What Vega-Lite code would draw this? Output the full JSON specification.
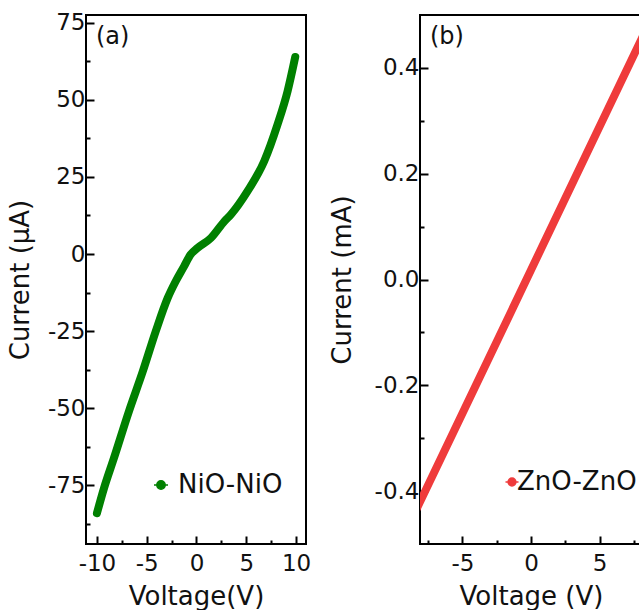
{
  "$schema": "https://vega.github.io/schema/vega-lite/v6.json",
  "padding": {"left": 6, "top": 10, "right": 0, "bottom": 0},
  "background": "white",
  "spacing": 16,
  "config": {
    "view": {"stroke": "black", "strokeWidth": 2},
    "axis": {"domain": false, "grid": false, "tickColor": "black", "tickWidth": 2, "labelOverlap": false,
      "labelFont": "DejaVu Sans", "labelFontSize": 23, "labelColor": "#111",
      "titleFont": "DejaVu Sans", "titleFontSize": 26, "titleFontWeight": "normal", "titleColor": "#111"},
    "legend": {"labelFont": "DejaVu Sans", "labelFontSize": 26, "labelColor": "#111", "padding": 0}
  },
  "resolve": {"scale": {"color": "independent", "x": "independent", "y": "independent"}, "legend": {"color": "independent"}},
  "hconcat": [
    {
      "width": 220, "height": 529,
      "layer": [
        {
          "data": {"values": [
            {"V": -10.0, "I": -84.0, "sample": "NiO-NiO"},
            {"V": -9.3, "I": -76.0, "sample": "NiO-NiO"},
            {"V": -8.3, "I": -66.2, "sample": "NiO-NiO"},
            {"V": -6.8, "I": -51.1, "sample": "NiO-NiO"},
            {"V": -5.4, "I": -38.1, "sample": "NiO-NiO"},
            {"V": -4.1, "I": -25.1, "sample": "NiO-NiO"},
            {"V": -2.9, "I": -14.3, "sample": "NiO-NiO"},
            {"V": -2.1, "I": -8.9, "sample": "NiO-NiO"},
            {"V": -1.25, "I": -4.0, "sample": "NiO-NiO"},
            {"V": -0.6, "I": -0.2, "sample": "NiO-NiO"},
            {"V": 0.1, "I": 1.95, "sample": "NiO-NiO"},
            {"V": 1.45, "I": 5.2, "sample": "NiO-NiO"},
            {"V": 2.8, "I": 10.6, "sample": "NiO-NiO"},
            {"V": 3.45, "I": 12.8, "sample": "NiO-NiO"},
            {"V": 5.13, "I": 20.4, "sample": "NiO-NiO"},
            {"V": 6.8, "I": 30.1, "sample": "NiO-NiO"},
            {"V": 8.14, "I": 42.0, "sample": "NiO-NiO"},
            {"V": 9.15, "I": 52.8, "sample": "NiO-NiO"},
            {"V": 9.92, "I": 63.9, "sample": "NiO-NiO"}
          ]},
          "mark": {"type": "line", "strokeWidth": 8, "strokeCap": "round", "strokeJoin": "round", "interpolate": "monotone", "clip": true},
          "encoding": {
            "x": {"field": "V", "type": "quantitative",
              "scale": {"domain": [-11.1, 11], "nice": false, "zero": false},
              "axis": {"title": "Voltage(V)", "values": [-10, -7.5, -5, -2.5, 0, 2.5, 5, 7.5, 10], "tickCount": 50, "labelOverlap": false,
                "labelExpr": "datum.value % 5 === 0 ? (datum.value < 0 ? '-' + abs(datum.value) : '' + datum.value) : ''",
                "tickSize": {"condition": {"test": "datum.value % 5 === 0", "value": -8}, "value": -4},
                "labelPadding": 16, "titlePadding": 4}},
            "y": {"field": "I", "type": "quantitative",
              "scale": {"domain": [-94, 77.5], "nice": false, "zero": false},
              "axis": {"title": "Current (μA)", "values": [-87.5, -75, -62.5, -50, -37.5, -25, -12.5, 0, 12.5, 25, 37.5, 50, 62.5, 75], "tickCount": 50, "labelOverlap": false,
                "labelExpr": "datum.value % 25 === 0 ? (datum.value < 0 ? '-' + abs(datum.value) : '' + datum.value) : ''",
                "tickSize": {"condition": {"test": "datum.value % 25 === 0", "value": -8}, "value": -4},
                "labelPadding": 9, "titlePadding": 14}},
            "color": {"field": "sample", "type": "nominal",
              "scale": {"domain": ["NiO-NiO"], "range": ["#008000"]},
              "legend": {"title": null, "orient": "none", "legendX": 62, "legendY": 457,
                "symbolType": "M-1,0L1,0M-0.6,0A0.6,0.6,0,1,0,0.6,0A0.6,0.6,0,1,0,-0.6,0Z",
                "symbolSize": 196, "symbolStrokeWidth": 1.5, "labelOffset": 4,
                "encode": {"symbols": {"update": {"fill": {"value": "#008000"}, "stroke": {"value": "#008000"}}}}}}
          }
        },
        {
          "data": {"values": [{}]},
          "mark": {"type": "text", "align": "left", "baseline": "middle", "fontSize": 24, "font": "DejaVu Sans", "color": "#111"},
          "encoding": {"x": {"datum": -10.1}, "y": {"datum": 70.5}, "text": {"value": "(a)"}}
        }
      ]
    },
    {
      "width": 222, "height": 529,
      "layer": [
        {
          "data": {"values": [
            {"V": -10.0, "I": -0.523, "sample": "ZnO-ZnO"},
            {"V": -7.74, "I": -0.401, "sample": "ZnO-ZnO"},
            {"V": -5.0, "I": -0.253, "sample": "ZnO-ZnO"},
            {"V": 0.0, "I": 0.018, "sample": "ZnO-ZnO"},
            {"V": 4.43, "I": 0.258, "sample": "ZnO-ZnO"},
            {"V": 7.83, "I": 0.442, "sample": "ZnO-ZnO"},
            {"V": 10.0, "I": 0.559, "sample": "ZnO-ZnO"}
          ]},
          "mark": {"type": "line", "strokeWidth": 8, "strokeCap": "round", "strokeJoin": "round", "clip": true},
          "encoding": {
            "x": {"field": "V", "type": "quantitative",
              "scale": {"domain": [-8.1, 8.1], "nice": false, "zero": false},
              "axis": {"title": "Voltage (V)", "values": [-7.5, -5, -2.5, 0, 2.5, 5, 7.5], "tickCount": 50, "labelOverlap": false, "labelFlush": false,
                "labelExpr": "abs(datum.value) % 5 < 0.01 ? (datum.value < 0 ? '-' + abs(datum.value) : '' + datum.value) : ''",
                "tickSize": {"condition": {"test": "abs(datum.value) % 5 < 0.01", "value": -8}, "value": -4},
                "labelPadding": 16, "titlePadding": 4}},
            "y": {"field": "I", "type": "quantitative",
              "scale": {"domain": [-0.5, 0.5], "nice": false, "zero": false},
              "axis": {"title": "Current (mA)", "values": [-0.4, -0.3, -0.2, -0.1, 0, 0.1, 0.2, 0.3, 0.4], "tickCount": 50, "labelOverlap": false,
                "labelExpr": "abs(round(datum.value * 10)) % 2 === 0 ? (datum.value < 0 ? '-' : '') + format(abs(datum.value), '.1f') : ''",
                "tickSize": {"condition": {"test": "abs(round(datum.value * 10)) % 2 === 0", "value": -8}, "value": -4},
                "labelPadding": 9, "titlePadding": 19}},
            "color": {"field": "sample", "type": "nominal",
              "scale": {"domain": ["ZnO-ZnO"], "range": ["#EF3B3B"]},
              "legend": {"title": null, "orient": "none", "legendX": 79, "legendY": 454,
                "symbolType": "M-1,0L1,0M-0.6,0A0.6,0.6,0,1,0,0.6,0A0.6,0.6,0,1,0,-0.6,0Z",
                "symbolSize": 169, "symbolStrokeWidth": 1.5, "labelOffset": -8,
                "encode": {"symbols": {"update": {"fill": {"value": "#EF3B3B"}, "stroke": {"value": "#EF3B3B"}}}}}}
          }
        },
        {
          "data": {"values": [{}]},
          "mark": {"type": "text", "align": "left", "baseline": "middle", "fontSize": 24, "font": "DejaVu Sans", "color": "#111"},
          "encoding": {"x": {"datum": -7.37}, "y": {"datum": 0.458}, "text": {"value": "(b)"}}
        }
      ]
    }
  ]
}
